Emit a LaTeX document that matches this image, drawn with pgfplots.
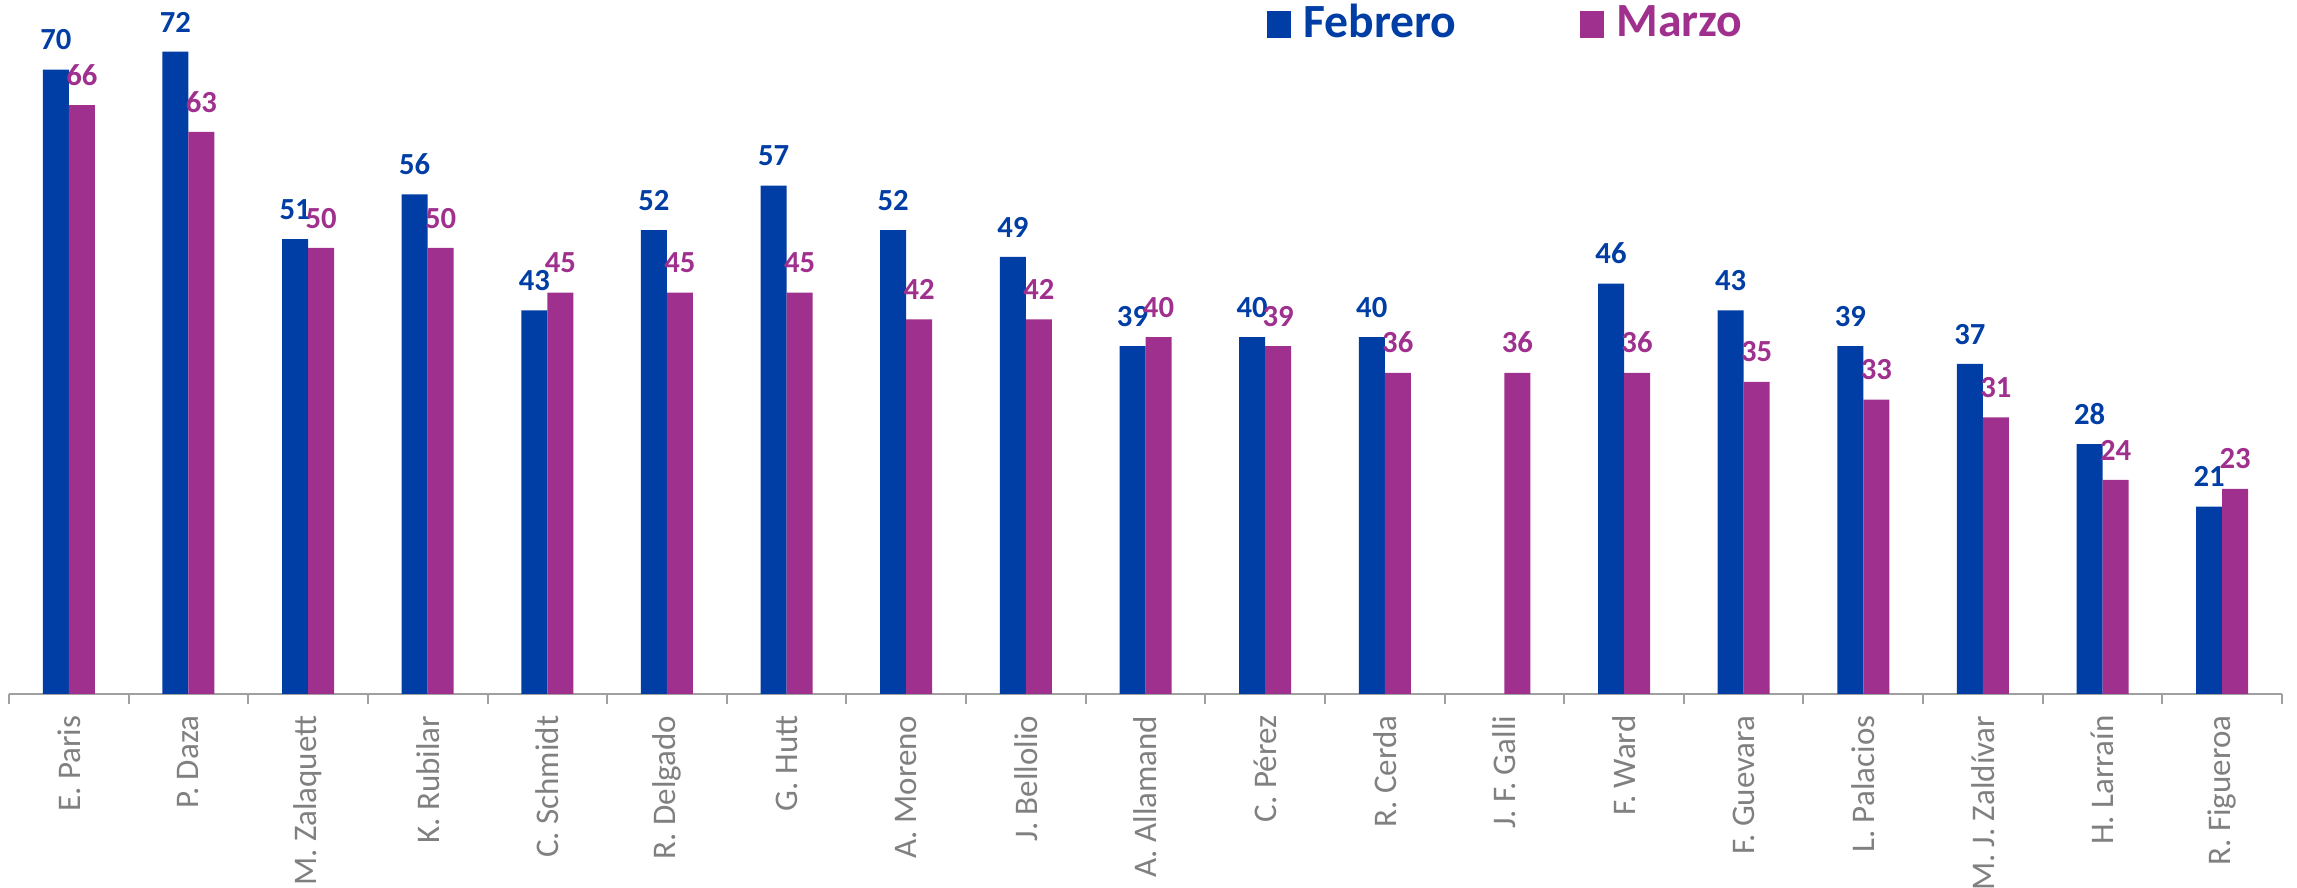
\documentclass[border=0pt]{standalone}
\usepackage{pgfplots}
\pgfplotsset{compat=1.18}
\usepackage{fontspec}
\setmainfont{Carlito}
\definecolor{feb}{RGB}{0,62,165}
\definecolor{mar}{RGB}{160,48,142}
\definecolor{axgray}{RGB}{160,160,160}
\definecolor{lblgray}{RGB}{128,128,128}
\begin{document}
\begin{tikzpicture}
\begin{axis}[
  at={(0,0)}, anchor=south west,
  scale only axis, width=681.9pt, height=208.2pt,
  xmin=-0.5, xmax=18.5, ymin=0, ymax=77.8,
  axis y line=none, axis x line*=bottom,
  x axis line style={-, draw=axgray, line width=0.6pt},
  xtick={0,...,18},
  xticklabels={E. Paris, P. Daza, M. Zalaquett, K. Rubilar, C. Schmidt, R. Delgado, G. Hutt, A. Moreno, J. Bellolio, A. Allamand, C. Pérez, R. Cerda, J. F. Galli, F. Ward, F. Guevara, L. Palacios, M. J. Zaldívar, H. Larraín, R. Figueroa},
  minor xtick={-0.5,0.5,...,18.5},
  major tick length=0pt, minor tick length=3pt, tick align=outside,
  minor tick style={draw=axgray, line width=0.6pt},
  xticklabel style={rotate=90, anchor=east, inner sep=0pt, font=\fontsize{9.9}{10}\selectfont, text=lblgray},
  xticklabel shift=6.3pt,
  ybar, bar width=7.8pt,
  clip=false,
  nodes near coords,
  /pgf/number format/assume math mode=true,
  every node near coord/.append style={anchor=south, inner sep=0pt, yshift=5.7pt, font=\fontsize{9.2}{10}\selectfont\bfseries},
  legend columns=2,
  legend style={at={(0.5533,0.995)}, anchor=north west, draw=none, fill=none, inner sep=0pt,
    nodes={inner sep=0pt},
    font=\fontsize{14.3}{15}\selectfont\bfseries,
    /tikz/every odd column/.append style={column sep=3.6pt},
    /tikz/every even column/.append style={column sep=37.2pt}},
  legend image code/.code={\fill[#1] (0pt,-4.4pt) rectangle (7.2pt,3.7pt);},
]
\addplot[fill=feb, draw=none, bar shift=-3.9pt, every node near coord/.append style={text=feb}] coordinates {
(0,70) (1,72) (2,51) (3,56) (4,43) (5,52) (6,57) (7,52) (8,49) (9,39) (10,40) (11,40) (13,46) (14,43) (15,39) (16,37) (17,28) (18,21)};
\addlegendentry{\textcolor{feb}{Febrero}}
\addplot[fill=mar, draw=none, bar shift=3.9pt, every node near coord/.append style={text=mar}] coordinates {
(0,66) (1,63) (2,50) (3,50) (4,45) (5,45) (6,45) (7,42) (8,42) (9,40) (10,39) (11,36) (12,36) (13,36) (14,35) (15,33) (16,31) (17,24) (18,23)};
\addlegendentry{\textcolor{mar}{Marzo}}
\end{axis}
\pgfresetboundingbox
\path[use as bounding box] (-2.7pt,-58.2pt) rectangle (686.4pt,208.2pt);
\end{tikzpicture}
\end{document}
